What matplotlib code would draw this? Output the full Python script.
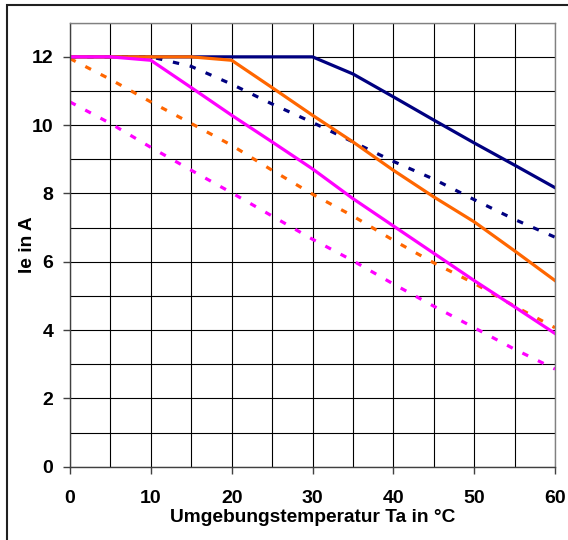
import matplotlib

matplotlib.use("Agg")
import matplotlib.pyplot as plt
from matplotlib.patches import Rectangle

plt.rcParams["font.family"] = ["Liberation Sans", "DejaVu Sans"]
plt.rcParams["font.weight"] = "bold"

# Ambient temperature (deg C) and derating curves Ie (A)
temp = [0, 5, 10, 15, 20, 25, 30, 35, 40, 45, 50, 55, 60]
navy_solid = [12.0, 12.0, 12.0, 12.0, 12.0, 12.0, 12.0, 11.5, 10.83, 10.15, 9.48, 8.83, 8.17]
navy_dotted = [12.0, 12.0, 12.0, 11.72, 11.2, 10.62, 10.08, 9.51, 8.94, 8.42, 7.82, 7.24, 6.72]
orange_solid = [12.0, 12.0, 12.0, 12.0, 11.9, 11.1, 10.29, 9.51, 8.68, 7.9, 7.17, 6.32, 5.45]
orange_dotted = [11.95, 11.34, 10.68, 10.05, 9.41, 8.68, 7.98, 7.34, 6.63, 5.97, 5.37, 4.7, 4.07]
magenta_solid = [12.0, 12.0, 11.9, 11.1, 10.29, 9.51, 8.72, 7.85, 7.05, 6.25, 5.45, 4.68, 3.9]
magenta_dotted = [10.68, 10.05, 9.35, 8.68, 8.02, 7.34, 6.66, 6.03, 5.35, 4.7, 4.07, 3.44, 2.86]

x_ticks = [0, 10, 20, 30, 40, 50, 60]
y_ticks = [0, 2, 4, 6, 8, 10, 12]

NAVY = "#000080"
ORANGE = "#ff6600"
MAGENTA = "#ff00ff"

fig = plt.figure(figsize=(5.68, 5.4), dpi=100)
ax = fig.add_axes([70 / 568, 1 - 466.7 / 540, 485 / 568, 444 / 540])

ax.set_xlim(0, 60)
ax.set_ylim(0, 13)
ax.set_xticks(x_ticks)
ax.set_xticks(range(0, 61, 5), minor=True)
ax.set_yticks(y_ticks)
ax.set_yticks(range(0, 14), minor=True)
ax.grid(which="both", color="black", lw=0.8)
ax.set_axisbelow(True)

dot = (0, (2.0, 3.4))
lw = 2.3
ax.plot(temp, navy_dotted, color=NAVY, lw=lw, linestyle=dot)
ax.plot(temp, orange_dotted, color=ORANGE, lw=lw, linestyle=dot)
ax.plot(temp, magenta_dotted, color=MAGENTA, lw=lw, linestyle=dot)
ax.plot(temp, navy_solid, color=NAVY, lw=lw)
ax.plot(temp, orange_solid, color=ORANGE, lw=lw)
ax.plot(temp, magenta_solid, color=MAGENTA, lw=lw)

for side in ("top", "right"):
    ax.spines[side].set_color("#808080")
ax.spines["left"].set_color("#404040")
ax.spines["bottom"].set_color("#404040")
for s in ax.spines.values():
    s.set_linewidth(1.0)

ax.tick_params(axis="both", which="major", length=5, width=1, color="#404040",
               labelsize=14)
ax.tick_params(axis="x", pad=12)
ax.tick_params(axis="y", pad=7)
ax.tick_params(axis="both", which="minor", length=0)
for lab in ax.get_xticklabels() + ax.get_yticklabels():
    lab.set_fontweight("bold")

ax.set_xlabel("Umgebungstemperatur Ta in °C", fontsize=13.8, fontweight="bold")
ax.set_ylabel("Ie in A", fontsize=13.8, fontweight="bold")
ax.xaxis.set_label_coords(0.5, -0.095)
ax.yaxis.set_label_coords(-0.07, 0.5)

# outer chart frame (right and bottom edges fall outside the image)
fig.add_artist(Rectangle((7 / 568, -0.1), 1.2, 1.1 - 5 / 540, transform=fig.transFigure,
                         fill=False, edgecolor="#202020", lw=1.5))

fig.savefig("out.png", dpi=100)
